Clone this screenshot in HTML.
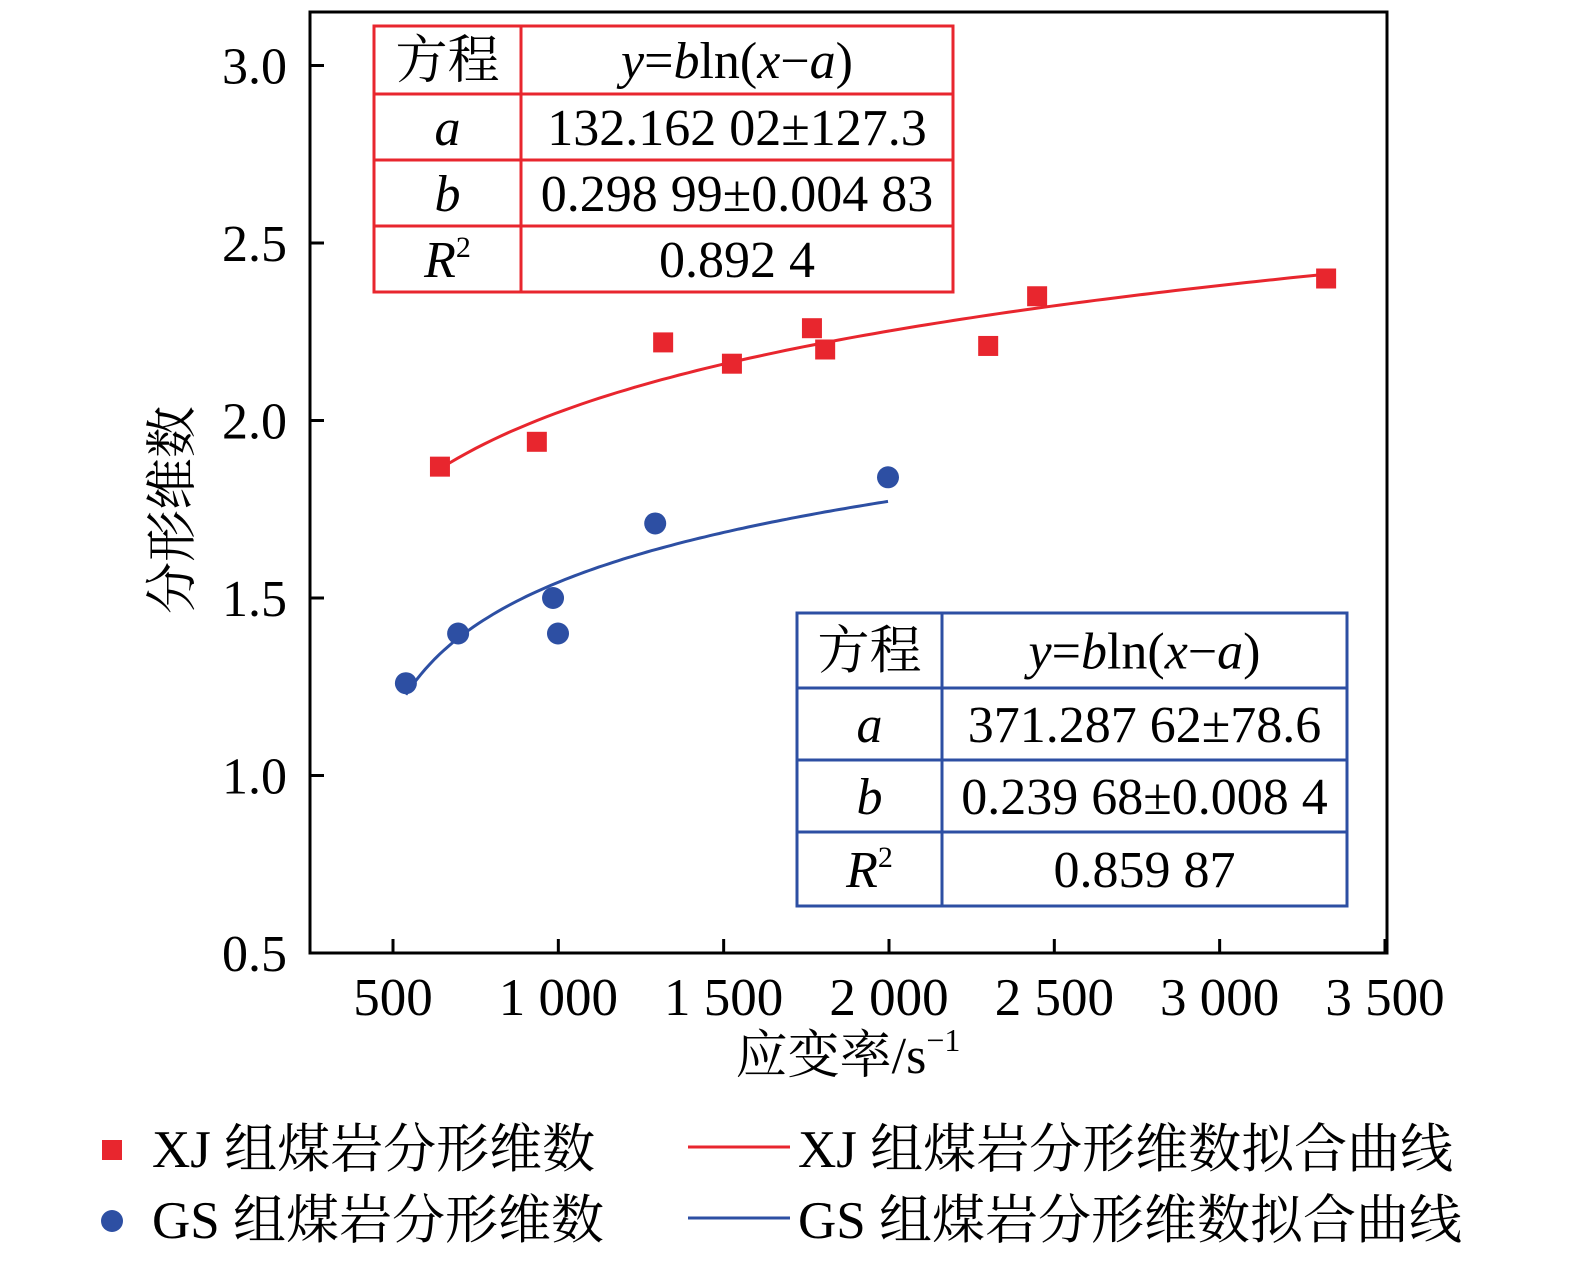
<!DOCTYPE html>
<html><head><meta charset="utf-8"><style>
body{margin:0;background:#fff}
svg{display:block;font-family:"Liberation Serif","Noto Serif CJK SC",serif}
</style></head><body>
<svg width="1575" height="1270" viewBox="0 0 1575 1270" xmlns="http://www.w3.org/2000/svg">
<g id="root"></g>
</svg>
<script>
const xTicks=[500,1000,1500,2000,2500,3000,3500];
const xTickLabels=["500","1 000","1 500","2 000","2 500","3 000","3 500"];
const yTicks=[0.5,1.0,1.5,2.0,2.5,3.0];
const yTickLabels=["0.5","1.0","1.5","2.0","2.5","3.0"];
const xjX=[642,935,1317,1525,1767,1807,2300,2448,3322];
const xjY=[1.87,1.94,2.22,2.16,2.26,2.20,2.21,2.35,2.40];
const gsX=[539,697,984,999,1293,1997];
const gsY=[1.26,1.40,1.50,1.40,1.71,1.84];
const xjFit=[132.16202,0.29899];
const gsFit=[371.28762,0.23968];
const NS="http://www.w3.org/2000/svg";
const root=document.getElementById('root');
function X(v){return 393+(v-500)*165.33/500;}
function Y(v){return 953-(v-0.5)*355;}
function el(tag,attrs,parent){const e=document.createElementNS(NS,tag);for(const k in attrs)e.setAttribute(k,attrs[k]);(parent||root).appendChild(e);return e;}
function txt(s,attrs,parent){const e=el('text',attrs,parent);e.textContent=s;return e;}
let f=el('rect',{x:310,y:12,width:1077,height:941,fill:'none',stroke:'#000','stroke-width':3});


xTicks.forEach((t,i)=>{
 let l=el('line',{x1:X(t),x2:X(t),y1:953,y2:939,stroke:'#000','stroke-width':3});
 
 
 let tx=txt(xTickLabels[i],{x:X(t),y:1015,'font-size':53,'text-anchor':'middle'});
 
 
});
yTicks.forEach((t,i)=>{
 let l=el('line',{x1:310,x2:324,y1:Y(t),y2:Y(t),stroke:'#000','stroke-width':3});
 
 
 let tx=txt(yTickLabels[i],{x:287,y:Y(t)+18,'font-size':52,'text-anchor':'end'});
 
 
});
let yt=txt('分形维数',{x:0,y:0,'font-size':52,'text-anchor':'middle',transform:'translate(190,510) rotate(-90)'});


let xt=el('text',{x:848,y:1073,'font-size':52,'text-anchor':'middle'});
xt.innerHTML='应变率/s<tspan font-size="32" dy="-22">−1</tspan>';


function curve(p,x0,x1,color,name){
 let d='';for(let i=0;i<=100;i++){const x=x0+(x1-x0)*i/100;const y=p[1]*Math.log(x-p[0]);d+=(i?'L':'M')+X(x).toFixed(1)+','+Y(y).toFixed(1);}
 let c=el('path',{d:d,fill:'none',stroke:color,'stroke-width':3});
 
 
}
curve(xjFit,Math.min(...xjX),Math.max(...xjX),'#e8262e','xj-fit-curve');
curve(gsFit,Math.min(...gsX),Math.max(...gsX),'#2d4fa3','gs-fit-curve');
xjX.forEach((x,i)=>{let r=el('rect',{x:X(x)-10,y:Y(xjY[i])-10,width:20,height:20,fill:'#e8262e'});
 
 });
gsX.forEach((x,i)=>{let c=el('circle',{cx:X(x),cy:Y(gsY[i]),r:11,fill:'#2d4fa3'});
 
 });
function table(x0,x1,xd,rows,color,vals,name){
 const g=el('g',{});
 
 
 el('rect',{x:x0,y:rows[0],width:x1-x0,height:rows[4]-rows[0],fill:'#fff',stroke:color,'stroke-width':3},g);
 el('line',{x1:xd,x2:xd,y1:rows[0],y2:rows[4],stroke:color,'stroke-width':3},g);
 for(let i=1;i<4;i++)el('line',{x1:x0,x2:x1,y1:rows[i],y2:rows[i],stroke:color,'stroke-width':3},g);
 const left=['方程','<tspan font-style="italic">a</tspan>','<tspan font-style="italic">b</tspan>','<tspan font-style="italic">R</tspan><tspan font-size="30" dy="-20">2</tspan>'];
 for(let i=0;i<4;i++){const cy=(rows[i]+rows[i+1])/2+18;
  let a=el('text',{x:(x0+xd)/2,y:cy,'font-size':52,'text-anchor':'middle'},g);a.innerHTML=left[i];
  let b=el('text',{x:(xd+x1)/2,y:cy,'font-size':52,'text-anchor':'middle'},g);b.innerHTML=vals[i];}
}
const eq='<tspan font-style="italic">y</tspan>=<tspan font-style="italic">b</tspan>ln(<tspan font-style="italic">x</tspan>−<tspan font-style="italic">a</tspan>)';
table(374,953,521,[26,94,160,226,292],'#e8262e',[eq,'132.162 02±127.3','0.298 99±0.004 83','0.892 4'],'xj-fit-table');
table(797,1347,942,[613,688,760,832,906],'#2d4fa3',[eq,'371.287 62±78.6','0.239 68±0.008 4','0.859 87'],'gs-fit-table');
const lg=el('g',{});


el('rect',{x:102,y:1140,width:20,height:20,fill:'#e8262e'},lg);
el('circle',{cx:112,cy:1221,r:11,fill:'#2d4fa3'},lg);
el('line',{x1:688,x2:790,y1:1147,y2:1147,stroke:'#e8262e','stroke-width':3},lg);
el('line',{x1:688,x2:790,y1:1218,y2:1218,stroke:'#2d4fa3','stroke-width':3},lg);
txt('XJ 组煤岩分形维数',{x:152,y:1167,'font-size':53},lg);
txt('GS 组煤岩分形维数',{x:152,y:1238,'font-size':53},lg);
txt('XJ 组煤岩分形维数拟合曲线',{x:798,y:1167,'font-size':53},lg);
txt('GS 组煤岩分形维数拟合曲线',{x:798,y:1238,'font-size':53},lg);
</script>
</body></html>
